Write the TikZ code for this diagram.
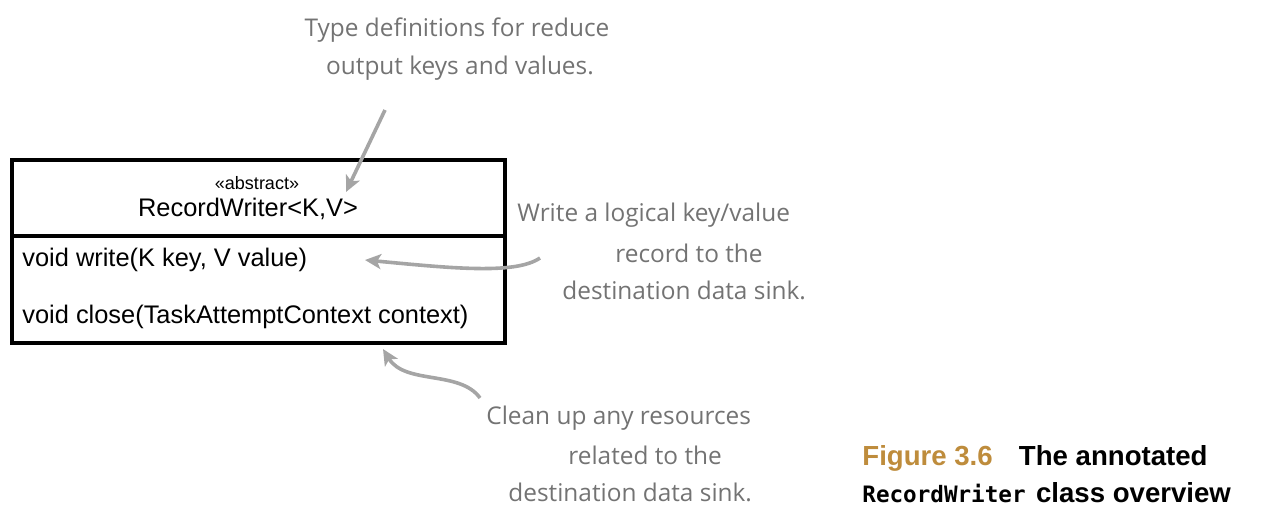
\documentclass[tikz,border=0pt]{standalone}
\usepackage{fontspec}
\setmainfont{Liberation Sans}
\newfontfamily\handfont{Open Sans}
\newfontfamily\capmono{DejaVu Sans Mono}
\usetikzlibrary{arrows.meta}
\definecolor{notegray}{RGB}{115,115,115}
\definecolor{arrowgray}{RGB}{165,165,165}
\definecolor{figgold}{RGB}{190,140,60}
\tikzset{
  boxline/.style={line width=2pt, draw=black},
  note/.style={text=notegray, font=\handfont\fontsize{12.2}{14}\selectfont, inner sep=0pt, anchor=west},
  notearrow/.style={draw=arrowgray, line width=1.8pt, -{Stealth[length=8pt,width=7.5pt,inset=2pt]}},
  member/.style={font=\fontsize{12.7}{15}\selectfont, inner sep=0pt, anchor=west},
  captext/.style={inner sep=0pt, anchor=west, font=\bfseries\fontsize{13.8}{16}\selectfont},
}
\begin{document}
\begin{tikzpicture}[x=0.5pt,y=-0.5pt]
\useasboundingbox (0,0) rectangle (1266,524);
% class box
\draw[boxline] (12,160) rectangle (505,343);
\draw[boxline] (12,236) -- (505,236);
\node[inner sep=0pt, font=\fontsize{9}{10}\selectfont] (stereo) at (257,183) {«abstract»};
\node[inner sep=0pt, font=\fontsize{12.7}{15}\selectfont] (cname) at (248,209) {RecordWriter<K,V>};
\node[member] (write) at (22,260) {void write(K key, V value)};
\node[member] (close) at (22,317) {void close(TaskAttemptContext context)};
% notes
\node[note, anchor=center] (n1a) at (457,30) {Type definitions for reduce};
\node[note, anchor=center] (n1b) at (460,68) {output keys and values.};
\node[note] (n2a) at (517,215) {Write a logical key/value};
\node[note] (n2b) at (615,253) {record to the};
\node[note] (n2c) at (562,290) {destination data sink.};
\node[note] (n3a) at (486,418) {Clean up any resources};
\node[note] (n3b) at (568,455) {related to the};
\node[note] (n3c) at (508,492) {destination data sink.};
% arrows
\coordinate (a1s) at (385,110);
\coordinate (a1e) at (346,192);
\draw[notearrow] (a1s) -- (a1e);
\coordinate (a2s) at (540,258);
\coordinate (a2e) at (365,260);
\draw[notearrow] (a2s) .. controls (515,275) and (450,268) .. (a2e);
\coordinate (a3s) at (480,398);
\coordinate (a3e) at (383,349);
\draw[notearrow] (a3s) .. controls (460,370) and (405,385) .. (a3e);
% caption
\node[captext] (cap1) at (862,458) {\textcolor{figgold}{Figure 3.6}\hspace{0.95em}The annotated};
\node[captext] (cap2) at (862,493) {{\capmono\bfseries\fontsize{11.3}{15}\selectfont RecordWriter}\hspace{0.1em} class overview};
\end{tikzpicture}
\end{document}
